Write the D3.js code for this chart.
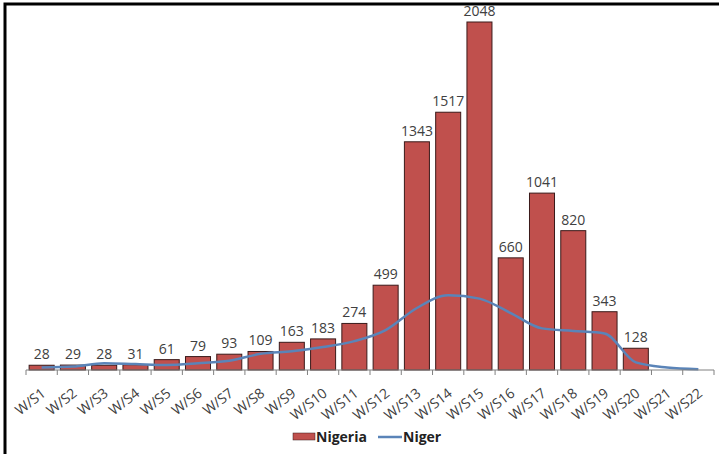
<!DOCTYPE html>
<html>
<head>
<meta charset="utf-8">
<script src="https://cdn.jsdelivr.net/npm/d3@7"></script>
<style>
  body { margin: 0; background: #fff; }
  text { font-family: "Open Sans", sans-serif; }
</style>
</head>
<body>
<svg class="chart"></svg>
<script>
var weeks = ['W/S1','W/S2','W/S3','W/S4','W/S5','W/S6','W/S7','W/S8','W/S9','W/S10','W/S11',
             'W/S12','W/S13','W/S14','W/S15','W/S16','W/S17','W/S18','W/S19','W/S20','W/S21','W/S22']

var nigeria = [28, 29, 28, 31, 61, 79, 93, 109, 163, 183, 274, 499, 1343, 1517, 2048, 660, 1041, 820, 343, 128, null, null]

var niger = [15, 20, 40, 35, 30, 40, 55, 95, 110, 135, 170, 235, 365, 440, 420, 335, 245, 230, 215, 45, 15, 5]

var w = 719, h = 454

var svg = d3.select('.chart')
    .attr('width', w)
    .attr('height', h)

// frame
svg.append('rect')
    .attr('x', 5).attr('y', 4)
    .attr('width', w + 10).attr('height', h + 10)
    .attr('fill', 'none')
    .attr('stroke', '#000')
    .attr('stroke-width', 3)

var x = d3.scaleBand()
    .domain(weeks)
    .range([26, 714])
    .paddingInner(0.2)
    .paddingOuter(0.1)

var y = d3.scaleLinear()
    .domain([0, 2048])
    .range([370, 22])

var withVal = weeks.filter(function(d, i) { return nigeria[i] != null })
function val(d) { return nigeria[weeks.indexOf(d)] }

// bars
svg.selectAll('rect.bar')
    .data(withVal)
  .enter().append('rect')
    .attr('class', 'bar')
    .attr('x', function(d) { return x(d) })
    .attr('width', x.bandwidth())
    .attr('y', function(d) { return y(val(d)) })
    .attr('height', function(d) { return y(0) - y(val(d)) })
    .attr('fill', '#c0504d')
    .attr('stroke', '#3a1a1a')
    .attr('stroke-width', 1)

// value labels
svg.selectAll('text.val')
    .data(withVal)
  .enter().append('text')
    .attr('class', 'val')
    .attr('x', function(d) { return x(d) + x.bandwidth() / 2 })
    .attr('y', function(d) { return y(val(d)) - 6 })
    .attr('text-anchor', 'middle')
    .attr('font-size', 14)
    .attr('fill', '#404040')
    .text(val)

// Niger line
var line = d3.line()
    .x(function(d, i) { return x(weeks[i]) + x.bandwidth() / 2 })
    .y(function(d) { return y(d) })
    .curve(d3.curveMonotoneX)

svg.append('path')
    .datum(niger)
    .attr('d', line)
    .attr('fill', 'none')
    .attr('stroke', '#5a84b8')
    .attr('stroke-width', 2.5)

// x axis
var step = x.step()
var gx = svg.append('g')
    .attr('transform', 'translate(0,370)')
    .call(d3.axisBottom(x).tickSize(0).tickPadding(0))
gx.select('.domain')
    .attr('d', 'M26,0H714')
    .attr('stroke', '#808080')
gx.selectAll('.tick text')
    .attr('font-size', 14)
    .attr('fill', '#404040')
    .attr('text-anchor', 'end')
    .attr('dy', 0)
    .attr('y', 0)
    .attr('transform', 'translate(5,25) rotate(-38)')

// boundary ticks
var bounds = d3.range(weeks.length + 1).map(function(i) { return x(weeks[0]) - step * x.paddingInner() / 2 + i * step })
gx.selectAll('line.bt')
    .data(bounds)
  .enter().append('line')
    .attr('class', 'bt')
    .attr('x1', function(d) { return d }).attr('x2', function(d) { return d })
    .attr('y1', 0).attr('y2', 5)
    .attr('stroke', '#808080')

// legend
var lg = svg.append('g')
lg.append('rect')
    .attr('x', 293).attr('y', 433)
    .attr('width', 22).attr('height', 7)
    .attr('fill', '#c0504d')
    .attr('stroke', '#3a1a1a')
    .attr('stroke-width', 0.5)
lg.append('text')
    .attr('x', 316).attr('y', 442)
    .attr('font-size', 14)
    .attr('font-weight', 'bold')
    .attr('fill', '#222')
    .text('Nigeria')
lg.append('line')
    .attr('x1', 378).attr('x2', 402)
    .attr('y1', 437).attr('y2', 437)
    .attr('stroke', '#5a84b8')
    .attr('stroke-width', 2.5)
lg.append('text')
    .attr('x', 403).attr('y', 442)
    .attr('font-size', 14)
    .attr('font-weight', 'bold')
    .attr('fill', '#222')
    .text('Niger')
</script>
</body>
</html>
